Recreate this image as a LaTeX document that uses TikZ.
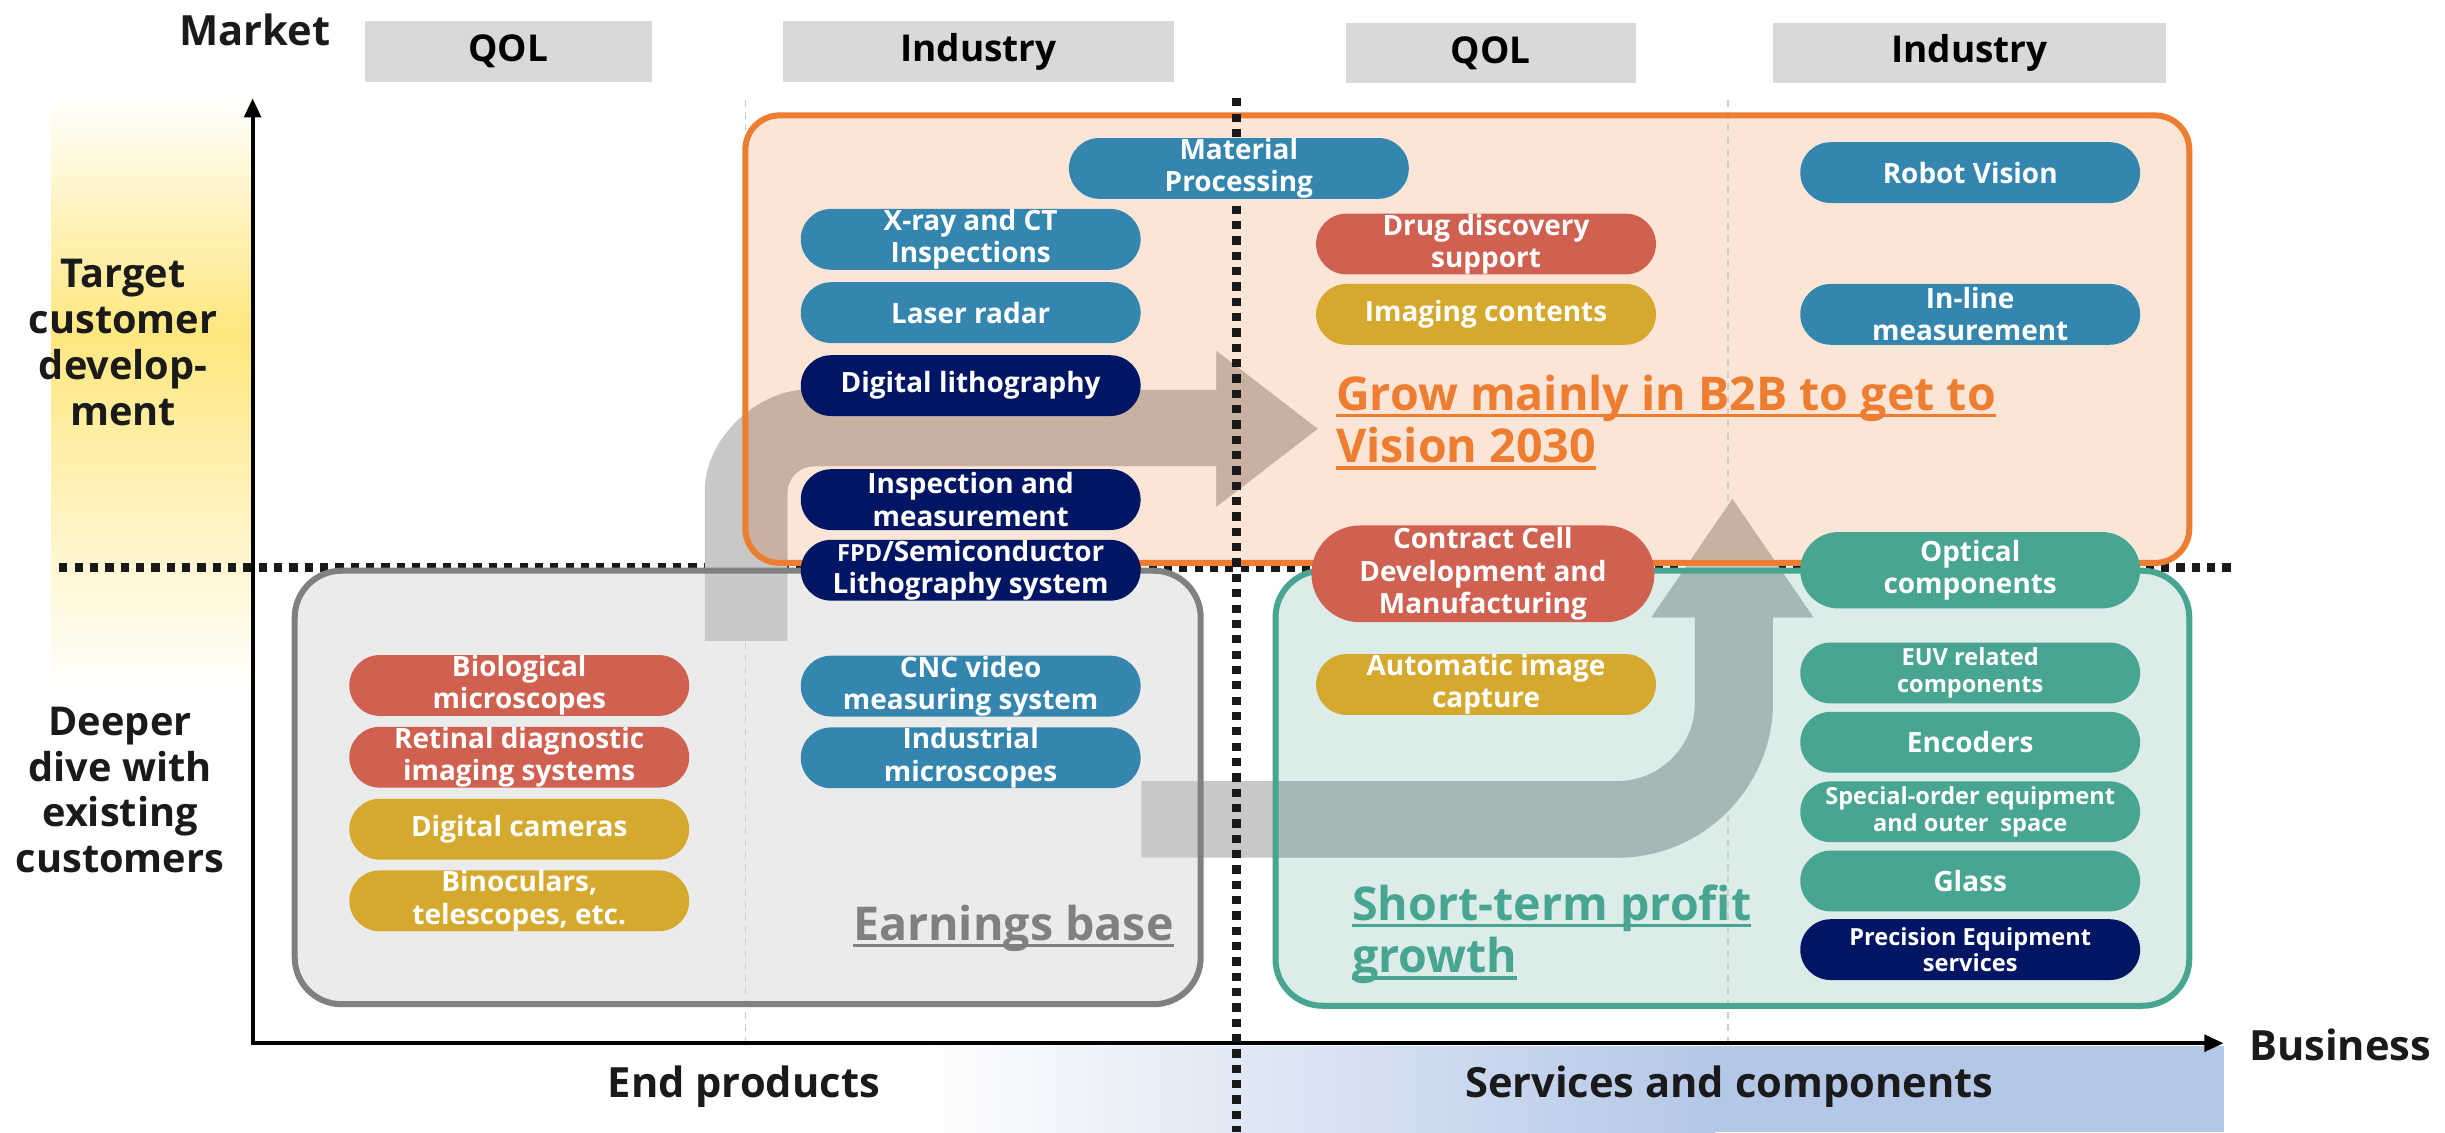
\documentclass[tikz,border=0pt]{standalone}
\usepackage{fontspec}
\setmainfont{Open Sans}
\usetikzlibrary{shapes.misc,arrows.meta}

\definecolor{hdrgray}{HTML}{D9D9D9}
\definecolor{pillblue}{HTML}{3486AF}
\definecolor{pillnavy}{HTML}{001664}
\definecolor{pillred}{HTML}{D06050}
\definecolor{pillyel}{HTML}{D4A92E}
\definecolor{pillteal}{HTML}{48A592}
\definecolor{grwline}{HTML}{ED7D31}
\definecolor{grwfill}{HTML}{FBE5D7}
\definecolor{ernline}{HTML}{808080}
\definecolor{ernfill}{HTML}{EBEBEB}
\definecolor{stpline}{HTML}{48A592}
\definecolor{stpfill}{HTML}{DCEDE9}
\definecolor{arwgray}{HTML}{C8C8C8}
\definecolor{arwbrown}{HTML}{C8B1A3}
\definecolor{arwteal}{HTML}{A6B8B5}
\definecolor{ylwstrip}{HTML}{FFE77F}
\definecolor{bandblue}{HTML}{B4C7E7}
\definecolor{txtdark}{HTML}{1A1A1A}

\newcommand{\pillfont}{\bfseries\fontsize{10.2}{11.8}\selectfont}
\newcommand{\pillsmall}{\bfseries\fontsize{8.6}{9.6}\selectfont}
\newcommand{\hdrfont}{\bfseries\fontsize{13.5}{16}\selectfont}
\newcommand{\axfont}{\bfseries\fontsize{15.2}{18}\selectfont}
\newcommand{\sidefont}{\bfseries\fontsize{14.5}{16.7}\selectfont}
\newcommand{\zonefont}{\bfseries\fontsize{17}{19.2}\selectfont}
\newcommand{\undl}[1]{\setbox0\hbox{#1}\rlap{\rule[-2.6pt]{\wd0}{1.3pt}}\box0}

\begin{document}
\begin{tikzpicture}[x=0.02cm, y=-0.02cm,
    pill/.style={rounded rectangle, minimum width=4.36cm, minimum height=0.78cm,
                 inner sep=0pt, text=white, align=center, font=\pillfont},
    hdr/.style={fill=hdrgray, minimum height=0.78cm, inner sep=0pt, font=\hdrfont},
    axislbl/.style={font=\axfont, text=txtdark, inner sep=0pt},
    sidelbl/.style={font=\sidefont, text=txtdark, align=center, inner sep=0pt},
    zonelbl/.style={font=\zonefont, align=left, inner sep=0pt},
    zone/.style={rounded corners=0.5cm, line width=2.2pt},
    dotline/.style={line width=3pt, dash pattern=on 3pt off 2.6pt, black!90},
    thinline/.style={line width=0.6pt, dash pattern=on 2.5pt off 2pt, black!20}]

    \useasboundingbox (0,0) rectangle (1568,726);

    % shaded strips
    \shade[top color=white, bottom color=ylwstrip] (33,60) rectangle (161,213);
    \shade[top color=ylwstrip, bottom color=white] (33,213) rectangle (161,445);
    \shade[left color=white, right color=bandblue] (585,671) rectangle (1100,726);
    \fill[bandblue] (1099,671) rectangle (1426,726);

    \draw[dotline] (38,364) -- (1432,364);

    % zones
    \fill[grwfill, rounded corners=0.44cm] (478,74) rectangle (1404,361);
    \fill[ernfill, rounded corners=0.6cm] (189,366) rectangle (770,644);
    \fill[stpfill, rounded corners=0.6cm] (818,366) rectangle (1404,645);

    \draw[thinline] (478,64) -- (478,669);
    \draw[thinline] (1108,64) -- (1108,669);

    % big arrows
    \path[save path=\arwone] (452,411) -- (452,315) .. controls (452,279.1) and (487.9,250) .. (517,250)
        -- (780,250) -- (780,225) -- (845,275) -- (780,325) -- (780,299) -- (522,299)
        .. controls (512.6,299) and (505,306.6) .. (505,316) -- (505,411) -- cycle;
    \path[save path=\arwtwo] (732,501) -- (1037,501) .. controls (1064.6,501) and (1087,478.6) .. (1087,451)
        -- (1087,396) -- (1059,396) -- (1111,320) -- (1163,396) -- (1137,396) -- (1137,450)
        .. controls (1137,505.2) and (1092.2,550) .. (1037,550) -- (732,550) -- cycle;
    \fill[arwgray, use path=\arwone];
    \fill[arwgray, use path=\arwtwo];
    \begin{scope}
        \clip[rounded corners=0.44cm] (478,74) rectangle (1404,361);
        \fill[arwbrown, use path=\arwone];
        \fill[arwbrown, use path=\arwtwo];
    \end{scope}
    \begin{scope}
        \clip[rounded corners=0.6cm] (818,366) rectangle (1404,645);
        \fill[arwteal, use path=\arwtwo];
    \end{scope}

    \draw[grwline, zone, rounded corners=0.44cm] (478,74) rectangle (1404,361);
    \draw[ernline, zone, rounded corners=0.6cm] (189,366) rectangle (770,644);
    \draw[stpline, zone, rounded corners=0.6cm] (818,366) rectangle (1404,645);

    % axes
    \draw[line width=1.5pt, {Triangle[length=7pt,width=6pt]}-{Triangle[length=7pt,width=6pt]}]
        (162,63) -- (162,669) -- (1426,669);
    \draw[dotline] (793,63) -- (793,726);

    % headers
    \node[hdr, minimum width=3.68cm] (hqola) at (326,33) {QOL};
    \node[hdr, minimum width=5.02cm] (hinda) at (627.5,33) {Industry};
    \node[hdr, minimum width=3.72cm] (hqolb) at (956,34) {QOL};
    \node[hdr, minimum width=5.04cm] (hindb) at (1263,34) {Industry};

    \node[axislbl] (market) at (163.5,19) {Market};
    \node[axislbl, anchor=west] (business) at (1442,670) {Business};
    \node[axislbl] (endprod) at (477,697) {End products};
    \node[axislbl] (servcomp) at (1109,697) {Services and components};
    \node[sidelbl, anchor=north] (target) at (79,166) {Target\\customer\\develop-\\ment};
    \node[sidelbl, anchor=north] (deeper) at (77,453) {Deeper\\dive with\\existing\\customers};

    % end products
    \node[pill, fill=pillblue] (material) at (794.5,108) {Material\\Processing};
    \node[pill, fill=pillblue] (xray) at (622.5,153.5) {X-ray and CT\\Inspections};
    \node[pill, fill=pillblue] (laser) at (622.5,200.5) {Laser radar};
    \node[pill, fill=pillnavy] (dlitho) at (622.5,247.3) {Digital lithography};
    \node[pill, fill=pillnavy] (inspect) at (622.5,320.4) {Inspection and\\measurement};
    \node[pill, fill=pillnavy] (fpd) at (622.5,365.7) {{\fontsize{8.6}{9}\selectfont FPD}/Semiconductor\\Lithography system};
    \node[pill, fill=pillblue] (cnc) at (622.5,440) {CNC video\\measuring system};
    \node[pill, fill=pillblue] (indmic) at (622.5,486) {Industrial\\microscopes};
    \node[pill, fill=pillred] (bio) at (333,439.6) {Biological\\microscopes};
    \node[pill, fill=pillred] (retinal) at (333,485.6) {Retinal diagnostic\\imaging systems};
    \node[pill, fill=pillyel] (dcam) at (333,531.8) {Digital cameras};
    \node[pill, fill=pillyel] (binoc) at (333,577.7) {Binoculars,\\telescopes, etc.};

    % services and components
    \node[pill, fill=pillred] (drug) at (953,156.5) {Drug discovery\\support};
    \node[pill, fill=pillyel] (imgcont) at (953,201.6) {Imaging contents};
    \node[pill, fill=pillred, minimum height=1.24cm, minimum width=4.4cm] (contract) at (951,368) {Contract Cell\\Development and\\Manufacturing};
    \node[pill, fill=pillyel] (autocap) at (953,439) {Automatic image\\capture};
    \node[pill, fill=pillblue] (robot) at (1263.5,110.7) {Robot Vision};
    \node[pill, fill=pillblue] (inline) at (1263.5,201.6) {In-line\\measurement};
    \node[pill, fill=pillteal, minimum height=0.98cm] (optical) at (1263.5,365.7) {Optical\\components};
    \node[pill, fill=pillteal, font=\pillsmall] (euv) at (1263.5,431.6) {EUV related\\components};
    \node[pill, fill=pillteal] (encoders) at (1263.5,476) {Encoders};
    \node[pill, fill=pillteal, font=\pillsmall] (special) at (1263.5,520.6) {Special-order equipment\\and outer\enspace space};
    \node[pill, fill=pillteal] (glass) at (1263.5,565) {Glass};
    \node[pill, fill=pillnavy, font=\pillsmall] (precision) at (1263.5,609) {Precision Equipment\\services};

    % zone labels
    \node[zonelbl, text=grwline, anchor=north west] (grow) at (856.6,240) {\undl{Grow mainly in B2B to get to}\\\undl{Vision 2030}};
    \node[zonelbl, text=stpline, anchor=north west] (shortterm) at (866.8,567) {\undl{Short-term profit}\\\undl{growth}};
    \node[zonelbl, text=ernline, anchor=base east] (earnings) at (753,603) {\undl{Earnings base}};
\end{tikzpicture}
\end{document}
